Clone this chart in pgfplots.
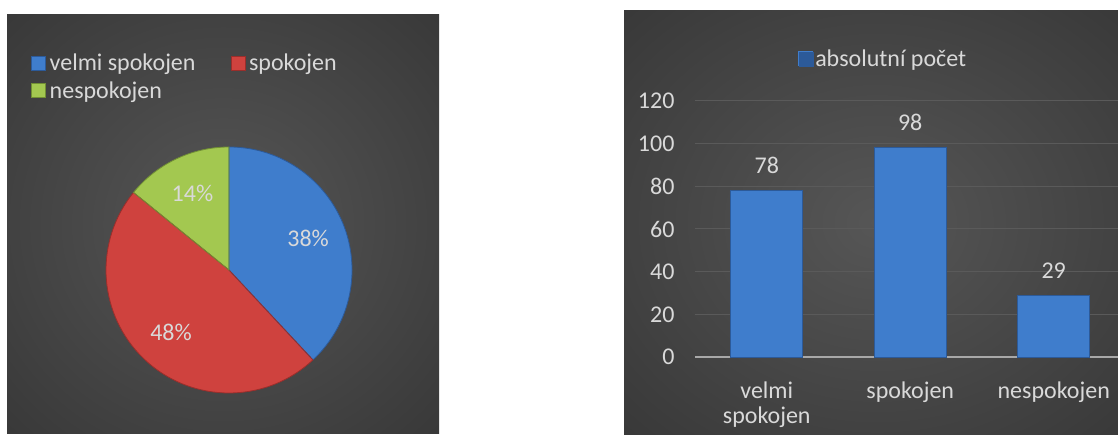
\documentclass[border=0pt]{standalone}
\usepackage{pgfplots}
\pgfplotsset{compat=1.18}
\usepackage{pgfplotstable}
\usepackage{fontspec}
\setmainfont{Carlito}
\definecolor{bgin}{HTML}{565656}
\definecolor{bgout}{HTML}{262626}
\definecolor{txt}{HTML}{D9D9D9}
\definecolor{cblue}{HTML}{3F7DCC}
\definecolor{cbluedk}{HTML}{2C5A99}
\definecolor{cred}{HTML}{CF423E}
\definecolor{creddk}{HTML}{9A2E2B}
\definecolor{cgreen}{HTML}{A3C850}
\definecolor{cgreendk}{HTML}{718F34}
\definecolor{gridc}{HTML}{5A5A5A}
\definecolor{axisc}{HTML}{A8A8A8}
\pgfdeclareradialshading{bgshade}{\pgfpoint{0bp}{0bp}}{color(0bp)=(bgin); color(58bp)=(bgout); color(75bp)=(bgout)}

\pgfplotstableread{
idx value
0 78
1 98
2 29
}\datatable

\pgfplotstablegetelem{0}{value}\of\datatable \let\va\pgfplotsretval
\pgfplotstablegetelem{1}{value}\of\datatable \let\vb\pgfplotsretval
\pgfplotstablegetelem{2}{value}\of\datatable \let\vc\pgfplotsretval
\pgfmathsetmacro\total{\va+\vb+\vc}
\pgfmathsetmacro\fA{\va/\total}
\pgfmathsetmacro\fB{\vb/\total}
\pgfmathsetmacro\fC{\vc/\total}
\pgfmathsetmacro\aA{90}
\pgfmathsetmacro\aB{\aA-360*\fA}
\pgfmathsetmacro\aC{\aB-360*\fB}
\pgfmathsetmacro\aD{\aC-360*\fC}
\pgfmathsetmacro\mA{(\aA+\aB)/2}
\pgfmathsetmacro\mB{(\aB+\aC)/2}
\pgfmathsetmacro\mC{(\aC+\aD)/2}
\pgfmathtruncatemacro\pA{round(100*\fA)}
\pgfmathtruncatemacro\pB{round(100*\fB)}
\pgfmathtruncatemacro\pC{round(100*\fC)}
\def\cx{229}\def\cy{164}\def\R{123}\def\lr{85}
\pgfmathsetmacro\lAx{\cx+\lr*cos(\mA)}\pgfmathsetmacro\lAy{\cy+\lr*sin(\mA)}
\pgfmathsetmacro\lBx{\cx+\lr*cos(\mB)}\pgfmathsetmacro\lBy{\cy+\lr*sin(\mB)}
\pgfmathsetmacro\lCx{\cx+\lr*cos(\mC)}\pgfmathsetmacro\lCy{\cy+\lr*sin(\mC)}
\newcommand\bigf{\fontsize{24}{27}\selectfont}

\begin{document}
\begin{tikzpicture}[x=1pt,y=1pt]
\path[use as bounding box] (0,0) rectangle (1118,434);
\clip (0,0) rectangle (1118,434);
\fill[white] (0,0) rectangle (1118,434);
\shade[shading=bgshade] (7,1) rectangle (439,419);
\shade[shading=bgshade] (624,0) rectangle (1130,423);

% ---------- pie ----------
\begin{axis}[at={(0pt,0pt)}, anchor=south west, x=1pt, y=1pt,
  xmin=0, xmax=439, ymin=0, ymax=434, hide axis, clip=false,
  legend columns=2, legend cell align=left,
  legend style={at={(axis cs:31,381)}, anchor=north west, draw=none, fill=none,
    inner sep=0pt, text=txt, font=\bigf,
    /tikz/every even column/.append style={column sep=34pt},
    /tikz/every odd column/.append style={column sep=3pt},
    row sep=7pt, nodes={inner sep=1pt}},
  legend image code/.code={\fill[#1] (0pt,-6.5pt) rectangle (14pt,7pt);\draw[#1,line width=0.5pt] (0pt,-6.5pt) rectangle (14pt,7pt);},
]
\fill[cblue] (axis cs:\cx,\cy) -- ++(\aA:\R) arc[start angle=\aA, end angle=\aB, radius=\R] -- cycle;
\fill[cred] (axis cs:\cx,\cy) -- ++(\aB:\R) arc[start angle=\aB, end angle=\aC, radius=\R] -- cycle;
\fill[cgreen] (axis cs:\cx,\cy) -- ++(\aC:\R) arc[start angle=\aC, end angle=\aD, radius=\R] -- cycle;
\draw[cbluedk, line width=0.8pt] (axis cs:\cx,\cy) -- ++(\aA:\R) arc[start angle=\aA, end angle=\aB, radius=\R] -- cycle;
\draw[creddk, line width=0.8pt] (axis cs:\cx,\cy) -- ++(\aB:\R) arc[start angle=\aB, end angle=\aC, radius=\R] -- cycle;
\draw[cgreendk, line width=0.8pt] (axis cs:\cx,\cy) -- ++(\aC:\R) arc[start angle=\aC, end angle=\aD, radius=\R] -- cycle;
\node[text=txt, font=\bigf] at (axis cs:\lAx,\lAy) {\pA\%};
\node[text=txt, font=\bigf] at (axis cs:\lBx,\lBy) {\pB\%};
\node[text=txt, font=\bigf] at (axis cs:\lCx,\lCy) {\pC\%};
\addlegendimage{fill=cblue, draw=cbluedk}
\addlegendentry{velmi spokojen}
\addlegendimage{fill=cred, draw=creddk}
\addlegendentry{spokojen}
\addlegendimage{fill=cgreen, draw=cgreendk}
\addlegendentry{nespokojen}
\end{axis}

% ---------- bars ----------
\begin{axis}[at={(695pt,77pt)}, anchor=south west, scale only axis,
  width=423pt, height=256pt,
  xmin=-0.5, xmax=2.448, ymin=0, ymax=120,
  ybar, bar width=72pt,
  axis line style={draw=none},
  major tick length=0pt,
  ytick={0,20,...,120},
  ymajorgrids, grid style={gridc, line width=1pt},
  xtick={0,1,2},
  xticklabels={{velmi\\spokojen},{spokojen},{nespokojen}},
  xticklabel style={align=center, text=txt, font=\fontsize{24}{25}\selectfont, yshift=-21pt},
  yticklabel style={text=txt, font=\bigf, xshift=-17pt},
  /pgf/number format/assume math mode=true,
  nodes near coords,
  nodes near coords style={text=txt, font=\bigf, yshift=13pt},
  legend style={at={(rel axis cs:0.445,1.165)}, anchor=center, draw=none, fill=none,
    text=txt, font=\bigf, inner sep=0pt, nodes={inner sep=2pt}},
  clip=false,
]
\draw[axisc, line width=2pt] (axis cs:-0.5,0) -- (axis cs:2.448,0);
\addplot[fill=cblue, draw=cbluedk, line width=1pt,
  legend image code/.code={\fill[cblue] (0pt,-7pt) rectangle (14pt,7pt);\draw[cbluedk,line width=0.5pt] (0pt,-7pt) rectangle (14pt,7pt);}]
  table[x=idx, y=value] {\datatable};
\addlegendentry{absolutní počet}
\end{axis}
\end{tikzpicture}
\end{document}
